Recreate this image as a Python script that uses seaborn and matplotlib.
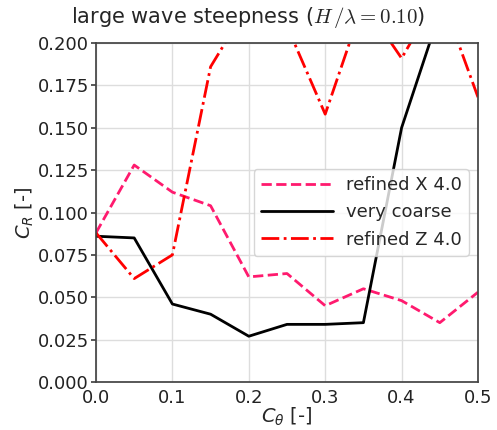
import matplotlib
matplotlib.use("Agg")
import matplotlib.pyplot as plt
import seaborn as sns

c_theta = [0.0, 0.05, 0.1, 0.15, 0.2, 0.25, 0.3, 0.35, 0.4, 0.45, 0.5]
refined_x = [0.088, 0.128, 0.112, 0.104, 0.062, 0.064, 0.045, 0.055, 0.048, 0.035, 0.053]
very_coarse = [0.086, 0.085, 0.046, 0.040, 0.027, 0.034, 0.034, 0.035, 0.150, 0.218, 0.250]
refined_z = [0.088, 0.061, 0.075, 0.186, 0.223, 0.210, 0.158, 0.224, 0.191, 0.230, 0.168]
yticks = [0.0, 0.025, 0.05, 0.075, 0.1, 0.125, 0.15, 0.175, 0.2]
ytick_labels = ["0.000", "0.025", "0.050", "0.075", "0.100", "0.125", "0.150", "0.175", "0.200"]
xticks = [0.0, 0.1, 0.2, 0.3, 0.4, 0.5]
xtick_labels = ["0.0", "0.1", "0.2", "0.3", "0.4", "0.5"]

sns.set_theme(style="whitegrid", rc={
    "axes.edgecolor": "#444444",
    "grid.color": "#dddddd",
    "xtick.bottom": False, "ytick.left": True,
    "ytick.major.size": 3.5, "ytick.major.pad": 1.5,
    "xtick.major.pad": -1.0,
    "mathtext.fontset": "dejavusans",
})
plt.rcParams["font.family"] = ["DejaVu Sans"]

fig = plt.figure(figsize=(4.97, 4.30), dpi=100)
ax = fig.add_axes([96/497, 1-382/430, (478-96)/497, (382-43)/430])

sns.lineplot(x=c_theta, y=refined_x, ax=ax, color="#ff1a6e", lw=2, linestyle="--", label="refined X 4.0")
sns.lineplot(x=c_theta, y=very_coarse, ax=ax, color="black", lw=2, label="very coarse")
sns.lineplot(x=c_theta, y=refined_z, ax=ax, color="red", lw=2, linestyle="-.", label="refined Z 4.0")

ax.set_xlim(0, 0.5)
ax.set_ylim(0, 0.2)
ax.set_xticks(xticks)
ax.set_xticklabels(xtick_labels)
ax.set_yticks(yticks)
ax.set_yticklabels(ytick_labels)
ax.tick_params(labelsize=13, colors="#222222")
ax.tick_params(axis="y", colors="#444444", labelcolor="#222222")
ax.set_xlabel(r"$C_\theta$ [-]", fontsize=14, labelpad=-1)
ax.set_ylabel(r"$C_R$ [-]", fontsize=14, labelpad=1)
fig.text(0.5, 1 - 18/430, r"large wave steepness ($H\,/\lambda = 0.10$)",
         fontsize=15, ha="center", va="center", math_fontfamily="cm")
ax.legend(loc="center right", fontsize=13, frameon=True, handlelength=4.0,
          handletextpad=0.7, borderaxespad=0.5)

fig.savefig("out.png", dpi=100)
